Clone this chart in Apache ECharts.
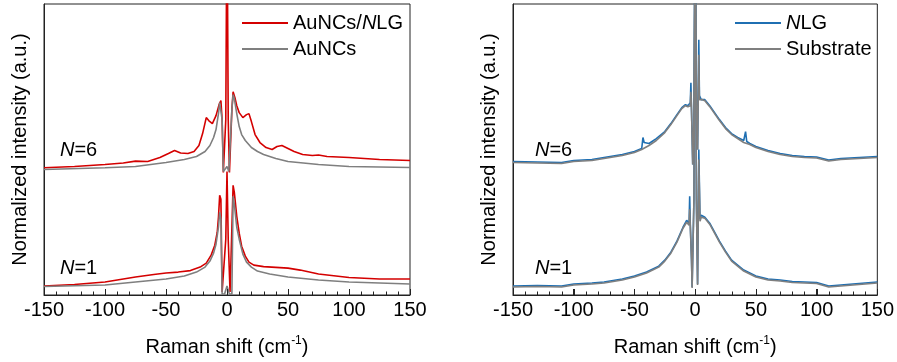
<!DOCTYPE html>
<html>
<head>
<meta charset="utf-8">
<script src="https://cdn.jsdelivr.net/npm/echarts@6/dist/echarts.min.js"></script>
<style>html,body{margin:0;padding:0;background:#fff}#c{width:897px;height:362px}</style>
</head>
<body>
<div id="c"></div>
<script>
// x tick labels (major ticks) and minor tick positions
const xTicks = [-150, -100, -50, 0, 50, 100, 150];
const xMinorTicks = [-140, -130, -120, -110, -90, -80, -70, -60, -40, -30, -20, -10, 10, 20, 30, 40, 60, 70, 80, 90, 110, 120, 130, 140];

// Left panel: AuNCs/NLG (red) and AuNCs (gray), N=6 (upper) and N=1 (lower), [shift, intensity]
const auNLG6 = [[-150,127.7],[-125,129],[-100,131],[-85,132.5],[-75,134.3],[-65,134],[-55,138],[-48,142],[-43,145],[-38,142.5],[-32,142],[-27,144],[-23,150],[-20,162],[-17,178],[-15,175],[-12,172],[-9,180],[-6.5,191],[-5,195],[-4,176],[-3,123],[-2,123],[-1,176],[0,400],[1,176],[2,123],[3,123],[4,186],[5,204],[6.5,198],[8,190],[10,183],[13,178],[16,181],[18,182],[20,174],[23,161],[27,153],[32,148],[37,146],[41,149],[45,150],[50,147],[55,144],[62,141],[70,140],[75,140.5],[82,139],[100,138],[125,136],[150,135]];
const auNC6 = [[-150,126],[-100,127.7],[-75,129],[-50,133],[-35,136],[-25,139],[-18,144],[-14,150],[-11,158],[-9,166],[-7,182],[-6,193],[-5,195],[-4,176],[-3,124],[-1.5,124],[0,129],[1.5,124],[3,124],[4,186],[5,201],[6,197],[8,182],[10,169],[12,161],[15,155],[20,148],[25,144],[30,141],[40,137],[50,134],[75,131],[100,129],[150,128]];
const auNLG1 = [[-150,9],[-125,10.5],[-100,13],[-75,18],[-60,20.5],[-50,22],[-40,23],[-30,24.5],[-22,28],[-17,32],[-13,40],[-10,50],[-8,63],[-7,78],[-6,100],[-5,96],[-4,3],[-2.5,3],[-1,56],[0,124],[1,56],[2.5,3],[4,3],[5,110],[6,103],[8,79],[10,62],[12,49],[15,39],[18,33],[22,30],[30,28.5],[50,27],[60,25],[75,21],[100,17.5],[125,16],[150,16]];
const auNC1 = [[-150,8.5],[-100,10],[-75,13],[-50,16],[-35,19],[-25,23],[-18,28],[-14,34],[-11,42],[-9,51],[-7,68],[-6,83],[-5,76],[-4,1],[-2,1],[0,9],[2,1],[4,1],[5,99],[6,91],[8,68],[10,56],[13,41],[16,33],[20,28],[25,24],[35,21],[50,18],[75,15],[100,13],[150,11]];

// Right panel: NLG (blue) and Substrate (gray)
const nlg6 = [[-150,134],[-130,133.5],[-110,133],[-100,135],[-85,136],[-75,138],[-60,141],[-50,144],[-44,147],[-43,158],[-42,153],[-38,152],[-32,157],[-25,164],[-20,172],[-15,181],[-11,188],[-8,191],[-6,190],[-4,193],[-3.5,213],[-3,186],[-2,131],[-1,176],[0,400],[1,196],[2,146],[3,256],[3.5,200],[5,196],[6,198],[8,196],[12,190],[16,183],[20,176],[25,168],[30,162],[35,158],[40,155],[41.5,164],[42.5,154],[45,152],[50,149],[60,145],[70,142],[80,140],[90,139],[100,138.5],[110,135.5],[120,137],[150,139]];
const sub6 = [[-150,133],[-130,132.5],[-110,132],[-100,134],[-85,135],[-75,137],[-60,140],[-50,143],[-44,146],[-38,150],[-32,155],[-25,163],[-20,171],[-15,180],[-11,187],[-8,190],[-6,189],[-4,190],[-3.5,204],[-3,185],[-2,131],[-1,176],[0,400],[1,196],[2,146],[3,241],[3.5,196],[5,195],[6,196],[8,195],[12,189],[16,182],[20,175],[25,167],[30,161],[35,157],[40,153],[45,151],[50,148],[60,144],[70,141],[80,139],[90,138],[100,137.5],[110,134.5],[120,136],[150,138]];
const nlg1 = [[-150,9],[-130,9.5],[-110,9],[-100,11],[-85,12],[-75,13],[-60,16],[-50,19],[-40,23],[-30,29],[-25,35],[-20,43],[-15,54],[-10,68],[-7,75],[-5,72],[-4.5,99],[-4,71],[-3,36],[-2.5,8],[-1,96],[0,400],[1,96],[2,11],[3,146],[4,76],[5,80],[6,81],[8,78],[12,72],[16,63],[20,54],[25,44],[30,35],[40,25],[50,19],[60,16],[70,15],[80,13.5],[100,12.5],[110,9],[120,10],[150,13]];
const sub1 = [[-150,8],[-130,8.5],[-110,8],[-100,10],[-85,11],[-75,12],[-60,15],[-50,18],[-40,22],[-30,28],[-25,34],[-20,42],[-15,53],[-10,67],[-7,73],[-5,70],[-4.5,86],[-4,69],[-3,35],[-2.5,7],[-1,96],[0,400],[1,96],[2,10],[3,136],[4,74],[5,78],[6,79],[8,77],[12,71],[16,62],[20,53],[25,43],[30,34],[40,24],[50,18],[60,15],[70,14],[80,12.5],[100,11.5],[110,8],[120,9],[150,12]];

const RED = '#d40000', GRAY = '#7f7f7f', BLUE = '#1f6fb2';
const FONT = 'Arial, "Liberation Sans", sans-serif';

function xAxisFor(gi) {
  return {
    type: 'value', gridIndex: gi, min: xTicks[0], max: xTicks[xTicks.length - 1],
    interval: xTicks[1] - xTicks[0], position: 'bottom',
    name: 'Raman shift (cm{sup|-1})', nameLocation: 'middle', nameGap: 40,
    nameTextStyle: { fontFamily: FONT, fontSize: 20, color: '#000',
      rich: { sup: { fontFamily: FONT, fontSize: 12, color: '#000', padding: [0, 0, 12, 0] } } },
    axisLine: { show: true, onZero: false, lineStyle: { color: '#222', width: 1 } },
    axisTick: { show: true, inside: true, length: 6, lineStyle: { color: '#222', width: 1 } },
    axisLabel: { fontFamily: FONT, fontSize: 20, color: '#000', margin: 5, showMinLabel: true, showMaxLabel: true },
    splitLine: { show: false }
  };
}
function yAxisFor(gi, gap) {
  return {
    type: 'value', gridIndex: gi, min: 0, max: 292, position: 'left',
    name: 'Normalized intensity (a.u.)', nameLocation: 'middle', nameGap: gap,
    nameTextStyle: { fontFamily: FONT, fontSize: 20, color: '#000' },
    axisLine: { show: true, onZero: false, lineStyle: { color: '#222', width: 1 } },
    axisTick: { show: false }, axisLabel: { show: false }, splitLine: { show: false }
  };
}
function line(name, data, color, xi) {
  return { type: 'line', name, data, xAxisIndex: xi, yAxisIndex: xi, symbol: 'none',
    showSymbol: false, clip: true, animation: false,
    lineStyle: { color, width: 1.6 }, itemStyle: { color } };
}
// inward tick marks along the bottom axis, placed through the axis scale
function ticks(xi) {
  return { type: 'custom', xAxisIndex: xi, yAxisIndex: xi, silent: true, clip: false, z: 5,
    data: xTicks.concat(xMinorTicks).map(v => [v]),
    encode: { x: 0 },
    renderItem: (params, api) => {
      const v = api.value(0);
      const p = api.coord([v, 0]);
      const len = xTicks.includes(v) ? 6 : 3.5;
      const x = Math.round(p[0]) + 0.5;
      return { type: 'line', shape: { x1: x, y1: p[1], x2: x, y2: p[1] - len },
        style: { stroke: '#222', lineWidth: 1 } };
    } };
}
const legendText = { fontFamily: FONT, fontSize: 20, color: '#000', lineHeight: 20,
  rich: { i: { fontFamily: FONT, fontSize: 20, fontStyle: 'italic', color: '#000', lineHeight: 20 },
          t: { fontFamily: FONT, fontSize: 20, color: '#000', lineHeight: 20 } } };
const fmt = n => n === 'AuNCs/NLG' ? '{t|AuNCs/}{i|N}{t|LG}' : n === 'NLG' ? '{i|N}{t|LG}' : '{t|' + n + '}';

function nLabel(x, y, num) {
  return { type: 'text', left: x, top: y, style: {
    text: '{i|N}{t|=' + num + '}', font: '20px ' + FONT, fill: '#000',
    rich: { i: { fontStyle: 'italic', fontSize: 20, fontFamily: FONT, fill: '#000' },
            t: { fontSize: 20, fontFamily: FONT, fill: '#000' } } } };
}

const chart = echarts.init(document.getElementById('c'), null, { renderer: 'canvas' });
chart.setOption({
  animation: false,
  grid: [
    { left: 44, top: 4, width: 366, height: 292, show: true, borderColor: '#222', borderWidth: 1 },
    { left: 513, top: 4, width: 366, height: 292, show: true, borderColor: '#222', borderWidth: 1 }
  ],
  xAxis: [xAxisFor(0), xAxisFor(1)],
  yAxis: [yAxisFor(0, 14), yAxisFor(1, 14)],
  legend: [
    { left: 237, top: 8, orient: 'vertical', icon: 'rect', itemWidth: 46, itemHeight: 2, itemGap: 6,
      data: ['AuNCs/NLG', 'AuNCs'], formatter: fmt, textStyle: legendText, selectedMode: false },
    { left: 730, top: 8, orient: 'vertical', icon: 'rect', itemWidth: 46, itemHeight: 2, itemGap: 6,
      data: ['NLG', 'Substrate'], formatter: fmt, textStyle: legendText, selectedMode: false }
  ],
  graphic: [nLabel(60, 140, 6), nLabel(60, 258, 1), nLabel(535, 140, 6), nLabel(535, 258, 1)],
  series: [
    line('AuNCs/NLG', auNLG6, RED, 0),
    line('AuNCs/NLG', auNLG1, RED, 0),
    line('AuNCs', auNC6, GRAY, 0),
    line('AuNCs', auNC1, GRAY, 0),
    line('NLG', nlg6, BLUE, 1),
    line('NLG', nlg1, BLUE, 1),
    line('Substrate', sub6, GRAY, 1),
    line('Substrate', sub1, GRAY, 1),
    ticks(0),
    ticks(1)
  ]
});
</script>
</body>
</html>
